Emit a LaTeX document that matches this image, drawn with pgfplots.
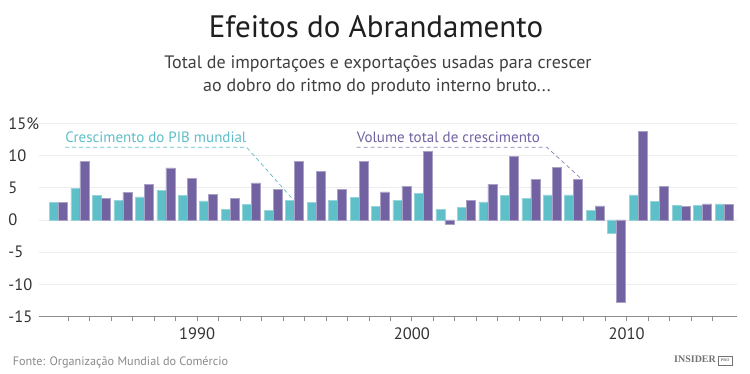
\documentclass[border=0pt]{standalone}
\usepackage{fontspec}
\setmainfont{PT Sans}
\newfontfamily\logofont{Liberation Serif}
\usepackage{pgfplots}
\pgfplotsset{compat=1.18}
\usepackage{pgfplotstable}
\definecolor{tealc}{HTML}{5FBFC8}
\definecolor{purpc}{HTML}{7262A2}
\definecolor{axisgray}{HTML}{8C8C8C}
\definecolor{gridgray}{HTML}{EDEDED}
\definecolor{tickcol}{HTML}{333333}
\definecolor{srcgray}{HTML}{8A8A8A}

\pgfplotstableread{
year gdp trade
1983 2.75 2.75
1984 4.9 9.07
1985 3.8 3.4
1986 3.1 4.3
1987 3.6 5.5
1988 4.6 8.1
1989 3.8 6.5
1990 2.95 4.0
1991 1.6 3.3
1992 2.4 5.75
1993 1.45 4.8
1994 3.1 9.07
1995 2.7 7.6
1996 3.1 4.8
1997 3.5 9.07
1998 2.1 4.35
1999 3.1 5.2
2000 4.1 10.7
2001 1.6 -0.6
2002 1.9 3.05
2003 2.8 5.5
2004 3.8 9.9
2005 3.3 6.3
2006 3.9 8.2
2007 3.9 6.3
2008 1.45 2.2
2009 -2.07 -12.75
2010 3.9 13.8
2011 2.85 5.2
2012 2.3 2.1
2013 2.3 2.5
2014 2.5 2.45
}\data

\begin{document}
\begin{tikzpicture}[x=1pt,y=1pt]
\path[use as bounding box, fill=white] (0,0) rectangle (750,374);
\begin{axis}[
  at={(39.3pt,57.3pt)}, anchor=south west,
  scale only axis, width=697.4pt, height=193.4pt,
  xmin=1982.65, xmax=2015.13, ymin=-15, ymax=15,
  ybar=0pt, bar width=9pt,
  axis x line*=bottom, axis y line*=left,
  x axis line style={draw=axisgray, line width=0.8pt, -},
  y axis line style={draw=none},
  xtick={1990,2000,2010}, minor xtick={1984,...,2014},
  xticklabels={1990,2000,2010},
  tick align=outside, major tick length=4.5pt, minor tick length=4.5pt,
  xtick style={draw=axisgray, line width=0.7pt},
  ytick={-15,-10,-5,0,5,10,15}, yticklabels={-15,-10,-5,0,5,10,15\%},
  ytick style={draw=none},
  ymajorgrids, grid style={draw=gridgray, line width=0.9pt},
  yticklabel style={anchor=west, xshift=-26.6pt, inner sep=0pt, font=\fontsize{16.5}{18}\selectfont, text=tickcol},
  xticklabel style={font=\fontsize{16.5}{18}\selectfont, text=tickcol, yshift=-3pt},
  clip=false,
]
\addplot[fill=tealc, draw=tealc!65!white, line width=0.5pt] table[x expr=\thisrow{year}+0.54, y=gdp]{\data};
\addplot[fill=purpc, draw=purpc!60!white, line width=0.5pt] table[x expr=\thisrow{year}+0.54, y=trade]{\data};
\draw[tealc, dash pattern=on 4pt off 3pt, line width=0.7pt] (axis cs:1983.85,11.27) -- (axis cs:1992.31,11.27) -- (axis cs:1994.49,3.1);
\node[anchor=base west, text=tealc, font=\fontsize{15}{16}\selectfont, inner sep=0pt] at (axis cs:1983.85,12.0) {Crescimento do PIB mundial};
\draw[purpc!80!white, dash pattern=on 4pt off 3pt, line width=0.7pt] (axis cs:1997.43,11.27) -- (axis cs:2006.29,11.27) -- (axis cs:2007.9,6.37);
\node[anchor=base west, text=purpc, font=\fontsize{15}{16}\selectfont, inner sep=0pt] at (axis cs:1997.43,12.0) {Volume total de crescimento};
\end{axis}
\node[anchor=base, text=black!88, font=\fontsize{31}{34}\selectfont] at (376,336.7) {Efeitos do Abrandamento};
\node[anchor=base, text=black!75, font=\fontsize{18}{20}\selectfont] at (378,305) {Total de importaçoes e exportações usadas para crescer};
\node[anchor=base, text=black!75, font=\fontsize{18}{20}\selectfont] at (377,282.3) {ao dobro do ritmo do produto interno bruto...};
\node[anchor=base west, text=srcgray, font=\fontsize{12.2}{14}\selectfont, inner sep=0pt] at (12.7,8.3) {Fonte: Organização Mundial do Comércio};
\node[anchor=base east, text=black!55, inner sep=0pt] at (733,11) {\logofont\bfseries\fontsize{10}{12}\selectfont INSIDER\,\raisebox{1pt}{\fbox{\fontsize{4}{5}\selectfont PRO}}};
\end{tikzpicture}
\end{document}
